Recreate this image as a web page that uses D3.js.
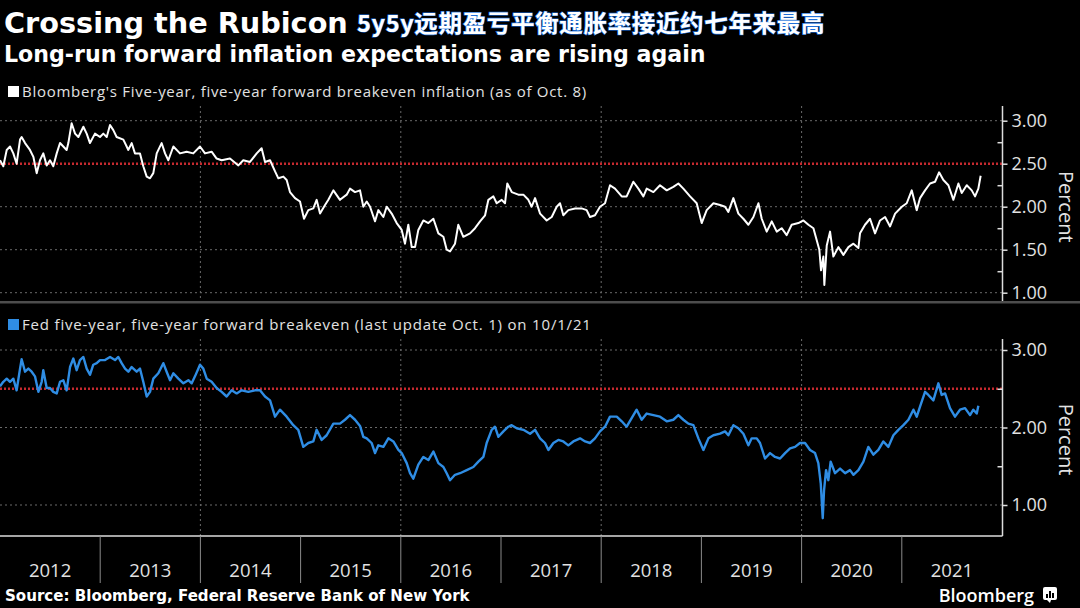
<!DOCTYPE html>
<html><head><meta charset="utf-8">
<script src="https://cdn.jsdelivr.net/npm/d3@7"></script>
<style>html,body{margin:0;padding:0;background:#000;} svg{display:block;}</style>
</head><body><svg id="c" width="1080" height="608"></svg>
<script>
// ---------- DATA ----------
const yearLabels = ["2012","2013","2014","2015","2016","2017","2018","2019","2020","2021"];
const topTicks = [1, 1.5, 2, 2.5, 3];
const topMinor = [1.25, 1.75, 2.25, 2.75];
const botTicks = [1, 2, 3];
const botMinor = [1.5, 2.5];
const threshold = 2.5;
const gridYears = [2014, 2016, 2018, 2020];

// Bloomberg 5y5y (decimal year, percent)
const bbgYears = [2012.000,2012.033,2012.067,2012.100,2012.133,2012.166,2012.200,2012.216,2012.250,2012.299,2012.333,2012.366,2012.399,2012.432,2012.466,2012.499,2012.532,2012.566,2012.599,2012.632,2012.665,2012.682,2012.715,2012.749,2012.782,2012.832,2012.865,2012.898,2012.948,2012.998,
2013.031,2013.065,2013.098,2013.131,2013.164,2013.231,2013.281,2013.314,2013.347,2013.397,2013.430,2013.464,2013.497,2013.530,2013.564,2013.613,2013.647,2013.680,2013.730,2013.796,2013.863,2013.929,2013.996,
2014.046,2014.112,2014.162,2014.212,2014.295,2014.379,2014.428,2014.495,2014.562,2014.611,2014.645,2014.695,2014.745,2014.778,2014.828,2014.861,2014.894,2014.944,2014.994,
2015.034,2015.077,2015.127,2015.160,2015.194,2015.244,2015.277,2015.327,2015.393,2015.460,2015.493,2015.543,2015.593,2015.626,2015.660,2015.693,2015.743,2015.776,2015.826,2015.859,2015.909,2015.959,
2016.009,2016.042,2016.075,2016.109,2016.142,2016.175,2016.225,2016.275,2016.325,2016.375,2016.425,2016.458,2016.491,2016.541,2016.574,2016.624,2016.691,2016.741,2016.791,2016.841,2016.874,2016.924,2016.957,
2017.007,2017.040,2017.063,2017.107,2017.173,2017.223,2017.273,2017.306,2017.340,2017.390,2017.456,2017.506,2017.556,2017.589,2017.622,2017.672,2017.739,2017.805,2017.855,2017.888,2017.938,2017.988,
2018.038,2018.088,2018.138,2018.205,2018.254,2018.321,2018.371,2018.421,2018.454,2018.521,2018.587,2018.654,2018.720,2018.770,2018.820,2018.887,2018.953,
2019.003,2019.053,2019.120,2019.186,2019.236,2019.269,2019.319,2019.369,2019.419,2019.469,2019.519,2019.569,2019.602,2019.652,2019.702,2019.752,2019.801,2019.851,2019.901,2019.968,
2020.018,2020.068,2020.118,2020.151,2020.177,2020.194,2020.217,2020.227,2020.251,2020.284,2020.317,2020.367,2020.417,2020.467,2020.517,2020.567,2020.583,2020.633,2020.683,2020.733,2020.783,2020.833,2020.883,2020.933,
2021.000,2021.049,2021.099,2021.149,2021.182,2021.232,2021.282,2021.332,2021.372,2021.415,2021.465,2021.515,2021.565,2021.598,2021.648,2021.698,2021.731,2021.764,2021.787];
const bbgValues = [2.54,2.47,2.66,2.70,2.62,2.50,2.78,2.81,2.74,2.66,2.58,2.39,2.54,2.62,2.48,2.54,2.47,2.62,2.74,2.70,2.66,2.74,2.97,2.85,2.81,2.93,2.85,2.74,2.85,2.81,
2.85,2.81,2.95,2.89,2.81,2.78,2.66,2.74,2.62,2.62,2.47,2.35,2.33,2.39,2.62,2.74,2.62,2.54,2.70,2.62,2.64,2.62,2.70,
2.62,2.64,2.56,2.54,2.56,2.48,2.54,2.52,2.62,2.68,2.52,2.54,2.41,2.33,2.35,2.31,2.17,2.10,2.06,
1.86,1.96,1.98,2.08,1.92,2.02,2.08,2.19,2.08,2.14,2.21,2.17,2.19,2.00,2.06,2.00,1.83,1.96,1.88,2.00,1.92,1.81,
1.73,1.57,1.79,1.53,1.53,1.73,1.84,1.81,1.86,1.69,1.65,1.50,1.48,1.57,1.79,1.65,1.69,1.75,1.83,1.90,2.08,2.12,2.04,
2.08,2.04,2.27,2.17,2.14,2.14,2.08,2.00,2.10,1.92,1.84,1.88,2.00,2.04,1.90,1.96,1.98,1.98,1.96,1.88,1.90,2.00,
2.04,2.25,2.21,2.12,2.12,2.29,2.21,2.12,2.21,2.17,2.25,2.19,2.23,2.27,2.21,2.12,2.04,
1.81,1.96,2.04,2.02,2.00,1.94,2.10,1.92,1.86,1.79,1.88,2.04,1.86,1.71,1.83,1.71,1.75,1.67,1.79,1.81,
1.84,1.79,1.75,1.61,1.50,1.26,1.42,1.09,1.55,1.71,1.42,1.53,1.44,1.53,1.57,1.52,1.69,1.79,1.86,1.69,1.84,1.88,1.77,1.92,
2.00,2.04,2.19,1.96,2.10,2.19,2.27,2.29,2.40,2.31,2.25,2.08,2.27,2.16,2.25,2.19,2.12,2.21,2.36];

// Fed 5y5y (decimal year, percent)
const fedYears = [2012.000,2012.033,2012.067,2012.100,2012.133,2012.166,2012.200,2012.216,2012.250,2012.283,2012.316,2012.349,2012.383,2012.416,2012.432,2012.466,2012.499,2012.532,2012.566,2012.599,2012.632,2012.665,2012.699,2012.732,2012.765,2012.798,2012.832,2012.865,2012.898,2012.931,2012.965,2012.998,
2013.048,2013.098,2013.148,2013.181,2013.214,2013.248,2013.281,2013.314,2013.364,2013.397,2013.430,2013.464,2013.497,2013.530,2013.580,2013.630,2013.663,2013.697,2013.730,2013.780,2013.830,2013.880,2013.913,2013.946,2013.996,
2014.029,2014.063,2014.112,2014.162,2014.212,2014.262,2014.312,2014.362,2014.412,2014.478,2014.545,2014.595,2014.645,2014.695,2014.745,2014.794,2014.861,2014.927,2014.977,
2015.027,2015.077,2015.127,2015.160,2015.210,2015.260,2015.327,2015.393,2015.443,2015.493,2015.543,2015.593,2015.626,2015.660,2015.709,2015.743,2015.776,2015.826,2015.876,2015.926,2015.976,
2016.009,2016.059,2016.092,2016.125,2016.175,2016.225,2016.275,2016.325,2016.375,2016.425,2016.458,2016.491,2016.541,2016.591,2016.658,2016.724,2016.774,2016.824,2016.857,2016.907,2016.940,2016.974,
2017.024,2017.073,2017.107,2017.157,2017.223,2017.290,2017.340,2017.390,2017.439,2017.473,2017.523,2017.572,2017.622,2017.672,2017.722,2017.789,2017.839,2017.888,2017.938,2017.988,
2018.038,2018.088,2018.155,2018.205,2018.254,2018.304,2018.354,2018.404,2018.454,2018.521,2018.587,2018.654,2018.720,2018.770,2018.820,2018.870,2018.920,2018.970,
2019.020,2019.070,2019.120,2019.186,2019.236,2019.269,2019.319,2019.369,2019.419,2019.469,2019.502,2019.552,2019.585,2019.635,2019.685,2019.735,2019.785,2019.835,2019.885,2019.935,2019.984,
2020.034,2020.084,2020.134,2020.167,2020.191,2020.211,2020.224,2020.244,2020.267,2020.290,2020.334,2020.384,2020.434,2020.483,2020.517,2020.567,2020.617,2020.666,2020.716,2020.766,2020.816,2020.866,2020.916,2020.966,
2021.016,2021.066,2021.116,2021.149,2021.182,2021.232,2021.265,2021.315,2021.365,2021.398,2021.432,2021.481,2021.531,2021.581,2021.631,2021.681,2021.714,2021.748,2021.764];
const fedValues = [2.53,2.59,2.63,2.59,2.63,2.48,2.76,2.88,2.72,2.76,2.72,2.66,2.46,2.59,2.74,2.51,2.51,2.46,2.44,2.59,2.61,2.48,2.78,2.89,2.74,2.87,2.91,2.76,2.68,2.81,2.83,2.87,
2.87,2.91,2.87,2.91,2.83,2.76,2.72,2.78,2.72,2.76,2.59,2.40,2.46,2.63,2.70,2.83,2.72,2.61,2.70,2.63,2.57,2.61,2.57,2.66,2.81,
2.76,2.63,2.59,2.51,2.46,2.40,2.48,2.44,2.48,2.46,2.48,2.48,2.40,2.35,2.14,2.23,2.14,2.03,1.97,
1.75,1.80,1.82,1.97,1.84,1.90,2.05,2.05,2.10,2.16,2.10,2.02,1.88,1.86,1.80,1.67,1.77,1.75,1.86,1.82,1.71,
1.67,1.54,1.41,1.34,1.52,1.62,1.58,1.69,1.54,1.49,1.41,1.32,1.39,1.41,1.45,1.49,1.56,1.62,1.80,1.97,2.01,1.88,
1.95,2.01,2.03,1.99,1.97,1.92,1.97,1.86,1.80,1.71,1.80,1.84,1.82,1.77,1.82,1.86,1.82,1.80,1.86,1.95,
2.01,2.14,2.14,2.08,2.01,2.12,2.23,2.10,2.18,2.16,2.14,2.08,2.10,2.16,2.10,2.05,2.03,1.86,
1.71,1.86,1.90,1.92,1.95,1.90,2.03,1.99,1.92,1.77,1.86,1.86,1.80,1.60,1.67,1.62,1.60,1.67,1.73,1.75,1.80,
1.80,1.71,1.67,1.54,1.28,0.83,1.19,1.45,1.32,1.56,1.41,1.47,1.41,1.45,1.39,1.45,1.56,1.75,1.65,1.71,1.82,1.75,1.90,1.97,
2.03,2.10,2.23,2.14,2.27,2.46,2.42,2.35,2.57,2.42,2.44,2.25,2.14,2.23,2.25,2.16,2.23,2.18,2.28];

// ---------- DRAW ----------
const svg = d3.select("#c");
const FONT = "'Open Sans', 'Noto Sans', sans-serif";
const WIDE = "'DejaVu Sans', 'Open Sans', sans-serif";
const TXT = "#e2e2e2";
svg.append("rect").attr("width",1080).attr("height",608).attr("fill","#000");

// stretch a text to a target width via letter spacing
function fit(sel, target) {
  const w = sel.node().getComputedTextLength();
  const n = sel.text().length;
  sel.style("letter-spacing", ((target - w) / n).toFixed(2) + "px");
  return sel;
}
// scale font-size so the text reaches a target width
function fitSize(sel, target) {
  const w = sel.node().getComputedTextLength();
  const fs = parseFloat(sel.style("font-size"));
  sel.style("font-size", (fs * target / w).toFixed(2) + "px");
  return sel;
}

const x = d3.scaleLinear().domain([2012, 2022]).range([0, 1002]);
const axisX = 1002.5;

const panels = [
  {years: bbgYears, values: bbgValues, color: "#ffffff", width: 2,
   y: d3.scaleLinear().domain([1, 3]).range([292.7, 120.7]), top: 106, bottom: 302,
   ticks: topTicks, minor: topMinor, legendY: 97, legendW: 565,
   legend: "Bloomberg's Five-year, five-year forward breakeven inflation (as of Oct. 8)"},
  {years: fedYears, values: fedValues, color: "#2f8de4", width: 2.4,
   y: d3.scaleLinear().domain([1, 3]).range([505, 350]), top: 339, bottom: 536,
   ticks: botTicks, minor: botMinor, legendY: 330, legendW: 570,
   legend: "Fed five-year, five-year forward breakeven (last update Oct. 1) on 10/1/21"}
];

panels.forEach((p, pi) => {
  const g = svg.append("g");
  p.ticks.filter(t => t !== threshold).forEach(t => {
    g.append("line").attr("x1",0).attr("x2",axisX).attr("y1",p.y(t)).attr("y2",p.y(t))
      .attr("stroke","#6a6a6a").attr("stroke-width",1).attr("stroke-dasharray","2,3");
  });
  gridYears.forEach(yr => {
    g.append("line").attr("x1",x(yr)).attr("x2",x(yr)).attr("y1",p.top).attr("y2",p.bottom)
      .attr("stroke","#6a6a6a").attr("stroke-width",1).attr("stroke-dasharray","2,3");
  });
  g.append("line").attr("x1",0).attr("x2",axisX).attr("y1",p.y(threshold)).attr("y2",p.y(threshold))
    .attr("stroke","#c62a2f").attr("stroke-width",2.6).attr("stroke-dasharray","2,2");
  const pts = p.years.map((t,i) => [t, p.values[i]]);
  g.append("path").datum(pts)
    .attr("d", d3.line().x(d => x(d[0])).y(d => p.y(d[1])))
    .attr("fill","none").attr("stroke",p.color).attr("stroke-width",p.width)
    .attr("stroke-linejoin","round");
  const ax = g.append("g").attr("transform",`translate(${axisX},0)`)
    .call(d3.axisRight(p.y).tickValues(p.ticks).tickSize(5).tickPadding(4).tickFormat(d3.format(".2f")));
  ax.select(".domain").remove();
  ax.selectAll("line").attr("stroke","#ddd").attr("stroke-width",1.5);
  ax.selectAll("text").attr("fill",TXT).style("font-family",FONT).style("font-size","18px");
  const axm = g.append("g").attr("transform",`translate(${axisX},0)`)
    .call(d3.axisLeft(p.y).tickValues(p.minor).tickSize(5).tickFormat(""));
  axm.select(".domain").remove();
  axm.selectAll("line").attr("stroke","#ddd").attr("stroke-width",1.5);
  g.append("line").attr("x1",axisX).attr("x2",axisX).attr("y1",p.top).attr("y2",p.bottom)
    .attr("stroke","#ddd").attr("stroke-width",1.5);
  const cy = (p.y(3) + p.y(1))/2 + (pi === 1 ? 12 : 0);
  g.append("text").attr("transform",`translate(1059,${cy}) rotate(90)`)
    .attr("text-anchor","middle").attr("fill",TXT)
    .style("font-family",FONT).style("font-size","20px").text("Percent");
  g.append("rect").attr("x",8).attr("y",p.legendY-11).attr("width",11).attr("height",11).attr("fill",p.color);
  const lt = g.append("text").attr("x",22).attr("y",p.legendY).attr("fill",TXT)
    .style("font-family",FONT).style("font-size","15px").text(p.legend);
  fit(lt, p.legendW);
});

svg.append("rect").attr("x",0).attr("y",301).attr("width",1080).attr("height",2.5).attr("fill","#4d4d4d");
svg.append("line").attr("x1",0).attr("x2",axisX).attr("y1",536).attr("y2",536)
  .attr("stroke","#ddd").attr("stroke-width",1.5);
d3.range(2013, 2022).forEach(yr => {
  svg.append("line").attr("x1",x(yr)).attr("x2",x(yr)).attr("y1",536).attr("y2",583)
    .attr("stroke","#8a8a8a").attr("stroke-width",1);
});
yearLabels.forEach(lbl => {
  svg.append("text").attr("x",x(+lbl + 0.5)).attr("y",577).attr("text-anchor","middle")
    .attr("fill",TXT).style("font-family",FONT).style("font-size","18.5px").text(lbl);
});

// titles
fitSize(svg.append("text").attr("x",4).attr("y",33).attr("fill","#fff")
  .style("font-family",WIDE).style("font-weight","bold").style("font-size","30px").text("Crossing the Rubicon"), 344);
fit(svg.append("text").attr("x",357).attr("y",32).attr("fill","#fff")
  .attr("stroke","#1e6fd9").attr("stroke-width",1.2).attr("paint-order","stroke")
  .style("font-family","'Noto Sans CJK SC', sans-serif").style("font-weight","bold").style("font-size","23.5px")
  .text("5y5y远期盈亏平衡通胀率接近约七年来最高"), 468);
fitSize(svg.append("text").attr("x",4).attr("y",62).attr("fill","#fff")
  .style("font-family",WIDE).style("font-weight","bold").style("font-size","20px")
  .text("Long-run forward inflation expectations are rising again"), 702);

fitSize(svg.append("text").attr("x",5).attr("y",601).attr("fill","#fff")
  .style("font-family",WIDE).style("font-weight","bold").style("font-size","15px")
  .text("Source: Bloomberg, Federal Reserve Bank of New York"), 465);

svg.append("text").attr("x",1034).attr("y",602).attr("text-anchor","end").attr("fill","#fff")
  .style("font-family",FONT).style("font-weight","600").style("font-size","18px").text("Bloomberg");
const lg = svg.append("g").attr("transform","translate(1043,587)");
lg.append("rect").attr("width",14).attr("height",13).attr("rx",2).attr("fill","#fff");
lg.append("path").attr("d","M4,13 L7,16 L8,13 Z").attr("fill","#fff");
[[3,7,2],[6,4,2],[9,6,2]].forEach(b => {
  lg.append("rect").attr("x",b[0]).attr("y",b[1]).attr("width",b[2]).attr("height",11-b[1]).attr("fill","#000");
});
</script>
</body></html>
